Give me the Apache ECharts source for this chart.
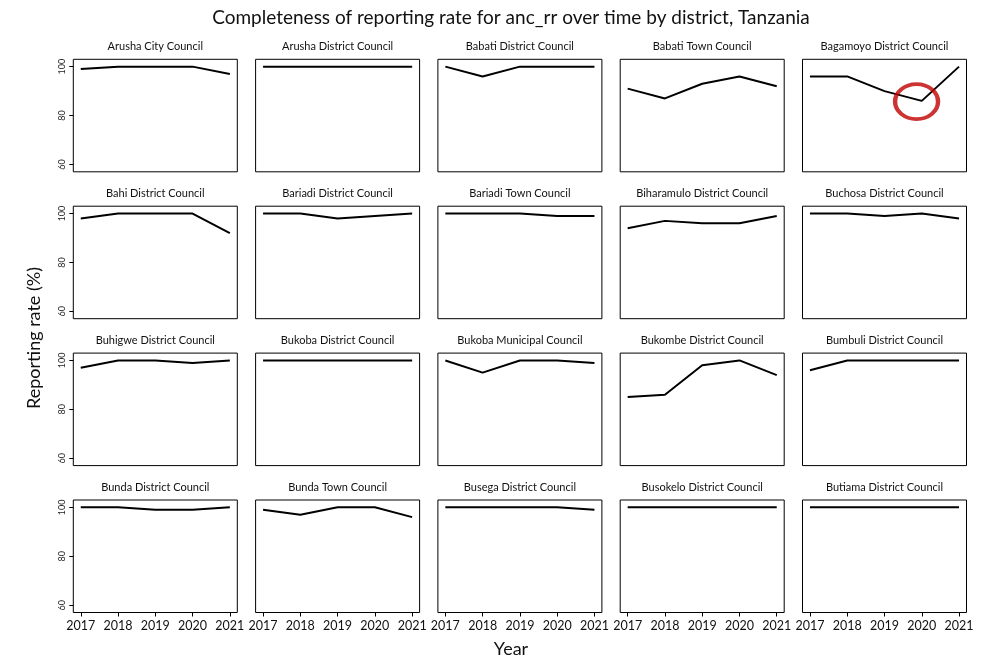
<!DOCTYPE html>
<html>
<head>
<meta charset="utf-8">
<title>Completeness of reporting rate for anc_rr</title>
<script src="https://cdn.jsdelivr.net/npm/echarts@6/dist/echarts.min.js"></script>
<style>
  html, body { margin: 0; padding: 0; background: #fff; }
  #chart { width: 987px; height: 657px; }
</style>
</head>
<body>
<div id="chart"></div>
<script>
// Reporting years and tick labels
const years = [2017, 2018, 2019, 2020, 2021];
const yTicks = [60, 80, 100];

// District panel titles, in panel order (row by row)
const districts = [
  'Arusha City Council', 'Arusha District Council', 'Babati District Council',
  'Babati Town Council', 'Bagamoyo District Council',
  'Bahi District Council', 'Bariadi District Council', 'Bariadi Town Council',
  'Biharamulo District Council', 'Buchosa District Council',
  'Buhigwe District Council', 'Bukoba District Council', 'Bukoba Municipal Council',
  'Bukombe District Council', 'Bumbuli District Council',
  'Bunda District Council', 'Bunda Town Council', 'Busega District Council',
  'Busokelo District Council', 'Butiama District Council'
];

// Reporting rate (%) per district, 2017-2021
const arushaCity      = [99, 100, 100, 100, 97];
const arushaDistrict  = [100, 100, 100, 100, 100];
const babatiDistrict  = [100, 96, 100, 100, 100];
const babatiTown      = [91, 87, 93, 96, 92];
const bagamoyo        = [96, 96, 90, 86, 100];
const bahi            = [98, 100, 100, 100, 92];
const bariadiDistrict = [100, 100, 98, 99, 100];
const bariadiTown     = [100, 100, 100, 99, 99];
const biharamulo      = [94, 97, 96, 96, 99];
const buchosa         = [100, 100, 99, 100, 98];
const buhigwe         = [97, 100, 100, 99, 100];
const bukobaDistrict  = [100, 100, 100, 100, 100];
const bukobaMunicipal = [100, 95, 100, 100, 99];
const bukombe         = [85, 86, 98, 100, 94];
const bumbuli         = [96, 100, 100, 100, 100];
const bundaDistrict   = [100, 100, 99, 99, 100];
const bundaTown       = [99, 97, 100, 100, 96];
const busega          = [100, 100, 100, 100, 99];
const busokelo        = [100, 100, 100, 100, 100];
const butiama         = [100, 100, 100, 100, 100];

const rates = [
  arushaCity, arushaDistrict, babatiDistrict, babatiTown, bagamoyo,
  bahi, bariadiDistrict, bariadiTown, biharamulo, buchosa,
  buhigwe, bukobaDistrict, bukobaMunicipal, bukombe, bumbuli,
  bundaDistrict, bundaTown, busega, busokelo, butiama
];

// Highlighted dip in the Bagamoyo panel (year, rate)
const highlightPanel = 4;
const highlightPoint = [2019.86, 85.7];

// Panel layout
const FONT = 'Lato, "Liberation Sans", sans-serif';
const nCols = 5, nRows = 4;
const gLeft0 = 73.3, gStepX = 182.3, gWidth = 164;
const gTop0 = 59.3, gStepY = 146.9, gHeight = 112.5;

const grids = [], xAxes = [], yAxes = [], series = [], titles = [];

titles.push({
  text: 'Completeness of reporting rate for anc_rr over time by district, Tanzania',
  left: 511, top: 8, padding: 0, textAlign: 'center',
  textStyle: { fontFamily: FONT, fontSize: 19, fontWeight: 'normal', color: '#111' }
});

districts.forEach((name, i) => {
  const r = Math.floor(i / nCols), c = i % nCols;
  const left = gLeft0 + c * gStepX, top = gTop0 + r * gStepY;
  const isBottom = r === nRows - 1, isLeft = c === 0;

  grids.push({
    left: left, top: top, width: gWidth, height: gHeight,
    show: true, borderColor: '#000', borderWidth: 1, backgroundColor: '#fff'
  });

  titles.push({
    text: name, left: left + gWidth / 2, top: top - 18, padding: 0, textAlign: 'center',
    textStyle: { fontFamily: FONT, fontSize: 11, fontWeight: 'normal', color: '#111' }
  });

  xAxes.push({
    type: 'value', gridIndex: i, min: 2016.8, max: 2021.2,
    splitLine: { show: false },
    axisLine: { show: false },
    axisTick: { show: isBottom, length: 4, lineStyle: { color: '#000' }, customValues: years },
    axisLabel: {
      show: isBottom, customValues: years, margin: 7,
      fontFamily: FONT, fontSize: 12.5, color: '#111',
      formatter: v => String(v)
    }
  });

  yAxes.push({
    type: 'value', gridIndex: i, min: 57, max: 103,
    splitLine: { show: false },
    axisLine: { show: false },
    axisTick: { show: isLeft, length: 4, lineStyle: { color: '#000' }, customValues: yTicks },
    axisLabel: {
      show: isLeft, customValues: yTicks, rotate: 90, margin: 7,
      fontFamily: FONT, fontSize: 9, color: '#222'
    }
  });

  series.push({
    type: 'line', xAxisIndex: i, yAxisIndex: i,
    data: years.map((y, k) => [y, rates[i][k]]),
    showSymbol: false, symbol: 'none',
    lineStyle: { color: '#000', width: 2 },
    silent: true, animation: false
  });
});

// Red ring marking the Bagamoyo dip
series.push({
  type: 'scatter', xAxisIndex: highlightPanel, yAxisIndex: highlightPanel,
  data: [highlightPoint],
  symbol: 'circle', symbolSize: [43, 35],
  itemStyle: { color: 'rgba(0,0,0,0)', borderColor: '#c00000', borderWidth: 4 },
  silent: true, animation: false, z: 5
});

const chart = echarts.init(document.getElementById('chart'), null, { renderer: 'canvas' });
chart.setOption({
  backgroundColor: '#fff',
  animation: false,
  title: titles,
  grid: grids,
  xAxis: xAxes,
  yAxis: yAxes,
  series: series,
  graphic: [
    {
      type: 'text', x: 34, y: 338, rotation: Math.PI / 2,
      style: {
        text: 'Reporting rate (%)', fontFamily: FONT, fontSize: 18,
        fill: '#111', align: 'center', verticalAlign: 'middle'
      }
    },
    {
      type: 'text', x: 511, y: 649,
      style: {
        text: 'Year', fontFamily: FONT, fontSize: 18,
        fill: '#111', align: 'center', verticalAlign: 'middle'
      }
    }
  ]
});
</script>
</body>
</html>
